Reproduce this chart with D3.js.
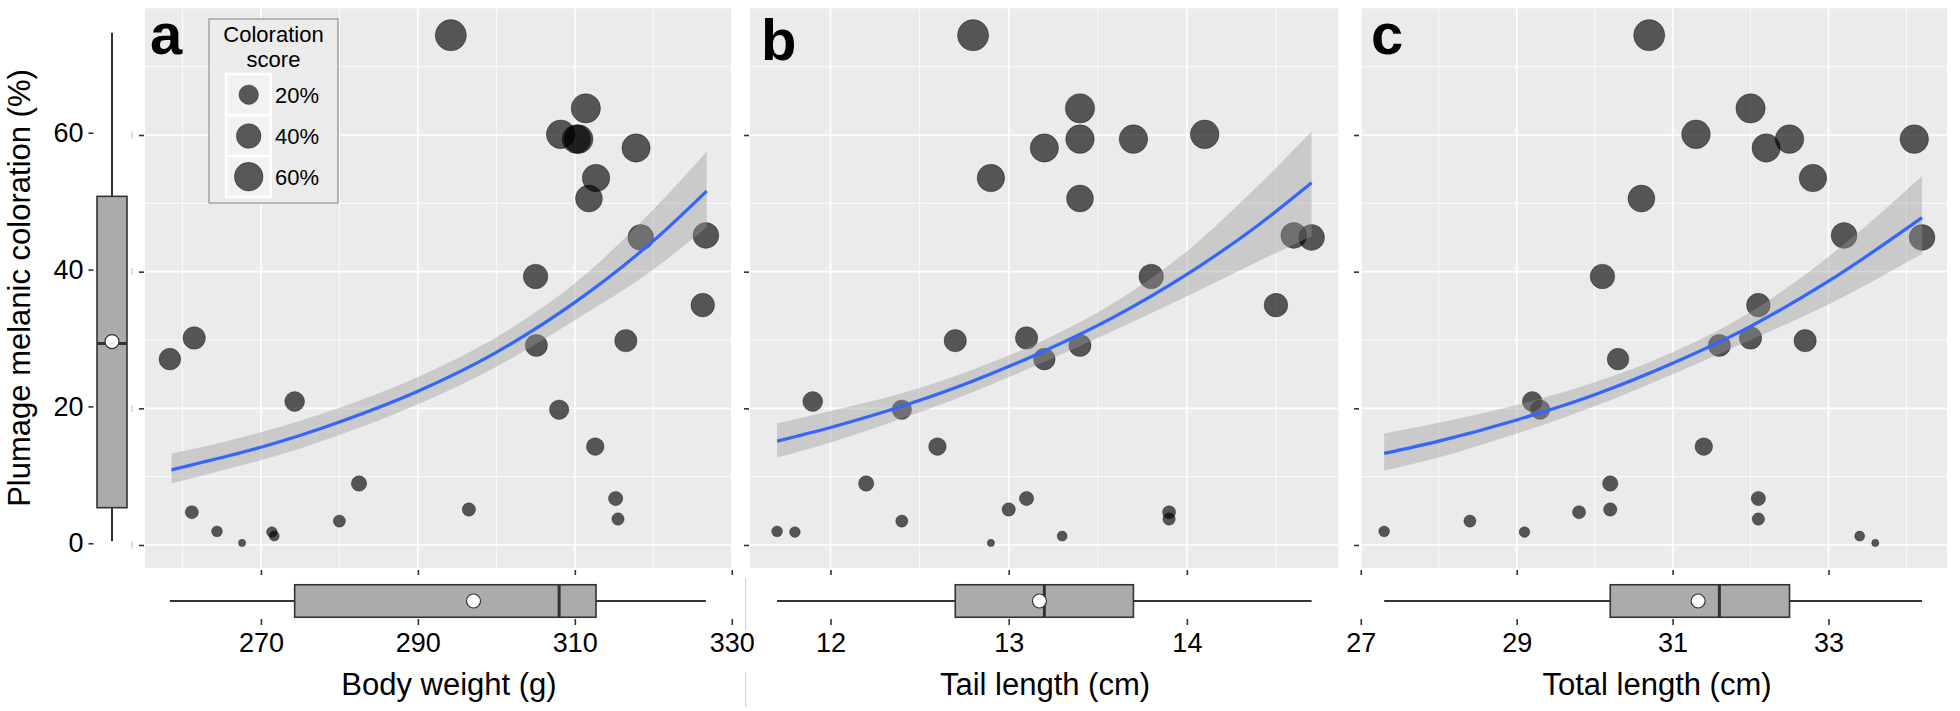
<!DOCTYPE html>
<html><head><meta charset="utf-8">
<script src="https://cdn.jsdelivr.net/npm/d3@7"></script>
<style>body{margin:0;background:#fff;} svg{display:block;font-family:"Liberation Sans",Arial,Helvetica,sans-serif;}</style>
</head><body><svg id="chart" width="1960" height="711"></svg>
<script>
// ---------------- DATA ----------------
const coloration  = [27.2, 30.3, 4.8, 2.0, 0.3, 1.9, 1.3, 21.0, 3.5, 9.0, 74.6, 5.2, 39.3, 29.2, 19.8, 60.1, 59.4, 59.4, 63.9, 50.7, 53.7, 14.4, 6.8, 3.8, 29.9, 58.1, 45.0, 45.3, 35.1];
const bodyWeight  = [258.4, 261.5, 261.2, 264.4, 267.6, 271.4, 271.7, 274.3, 280.0, 282.5, 294.2, 296.5, 305.0, 305.1, 308.0, 308.2, 310.2, 310.5, 311.4, 311.8, 312.7, 312.6, 315.2, 315.5, 316.5, 317.8, 318.4, 326.7, 326.3];
const tailLength  = [13.2, 13.1, 13.9, 11.7, 12.9, 11.8, 13.3, 11.9, 12.4, 12.2, 12.8, 13.0, 13.8, 13.4, 12.4, 14.1, 13.4, 13.7, 13.4, 13.4, 12.9, 12.6, 13.1, 13.9, 12.7, 13.2, 14.7, 14.6, 14.5];
const totalLength = [30.3, 32.0, 29.8, 27.3, 33.6, 29.1, 33.4, 29.2, 28.4, 30.2, 30.7, 30.2, 30.1, 31.6, 29.3, 31.3, 32.5, 34.1, 32.0, 30.6, 32.8, 31.4, 32.1, 32.1, 32.7, 32.2, 34.2, 33.2, 32.1];

const yTicks = [0, 20, 40, 60];
const yMinor = [10, 30, 50, 70];
const weightTicks = [270, 290, 310, 330];
const weightMinor = [260, 280, 300, 320];
const tailTicks = [12, 13, 14];
const tailMinor = [12.5, 13.5, 14.5];
const totalTicks = [27, 29, 31, 33];
const totalMinor = [28, 30, 32, 34];

// fitted curves
const weightFitX  = [258.6, 265, 270, 280, 290, 300, 310, 320, 326.8];
const weightFit   = [11.0, 12.8, 14.3, 18.0, 22.5, 28.2, 35.5, 44.5, 51.8];
const weightLower = [9.0, 10.9, 12.4, 16.1, 20.6, 26.1, 32.9, 40.3, 46.5];
const weightUpper = [13.4, 15.0, 16.5, 20.1, 24.6, 30.4, 38.3, 49.1, 57.6];

const tailFitX  = [11.7, 12.0, 12.4, 12.8, 13.2, 13.6, 14.0, 14.4, 14.7];
const tailFit   = [15.2, 17.2, 20.3, 24.0, 28.4, 33.5, 39.6, 46.8, 53.0];
const tailLower = [12.8, 15.0, 18.5, 22.4, 26.8, 31.5, 36.4, 41.5, 45.2];
const tailUpper = [17.8, 19.6, 22.2, 25.7, 30.0, 35.6, 43.0, 52.6, 60.5];

const totalFitX  = [27.3, 28.0, 29.0, 30.0, 31.0, 32.0, 33.0, 34.2];
const totalFit   = [13.4, 15.2, 18.3, 22.0, 26.6, 32.0, 38.6, 47.9];
const totalLower = [10.9, 12.8, 16.3, 20.3, 25.0, 30.0, 35.2, 42.6];
const totalUpper = [16.3, 17.9, 20.5, 23.8, 28.2, 34.1, 42.2, 54.0];

const legendValues = [20, 40, 60];
const legendLabels = ["20%", "40%", "60%"];
const legendTitle = ["Coloration", "score"];
const panelLetters = ["a", "b", "c"];
const xTitles = ["Body weight (g)", "Tail length (cm)", "Total length (cm)"];
const yTitle = "Plumage melanic coloration (%)";

// ---------------- LAYOUT ----------------
const svg = d3.select("#chart");
svg.append("rect").attr("width", 1960).attr("height", 711).attr("fill", "#fff");

const PTOP = 8.3, PBOT = 568;
const y = d3.scaleLinear().domain([-3.366, 78.54]).range([PBOT, PTOP]);
const yLeft = d3.scaleLinear().domain([-3.366, 78.54]).range([566.3, 5.85]);

const sizeNorm = d3.scaleLinear().domain(d3.extent(coloration)).range([0, 1]);
const rScale = d3.scaleLinear().domain([0, 1]).range([3.6, 15.6]);
const rad = v => rScale(Math.sqrt(Math.max(0, sizeNorm(v))));

const panels = [
  {xs: bodyWeight, dom: [255.23, 329.9], rng: [145, 731], ticks: weightTicks, minor: weightMinor,
   fx: weightFitX, fy: weightFit, lo: weightLower, hi: weightUpper, titleX: 449, letterX: 150, letterY: 54},
  {xs: tailLength, dom: [11.548, 14.851], rng: [750, 1338.5], ticks: tailTicks, minor: tailMinor,
   fx: tailFitX, fy: tailFit, lo: tailLower, hi: tailUpper, titleX: 1045, letterX: 761, letterY: 60},
  {xs: totalLength, dom: [26.99, 34.52], rng: [1360, 1947], ticks: totalTicks, minor: totalMinor,
   fx: totalFitX, fy: totalFit, lo: totalLower, hi: totalUpper, titleX: 1657, letterX: 1371, letterY: 54}
];

const boxFill = "#ababab", dark = "#333";

function stats(arr) {
  const s = arr.slice().sort(d3.ascending);
  return {min: s[0], q1: d3.quantile(s, 0.25), med: d3.quantile(s, 0.5), q3: d3.quantile(s, 0.75), max: s[s.length - 1], mean: d3.mean(s)};
}

panels.forEach((p, pi) => {
  const x = d3.scaleLinear().domain(p.dom).range(p.rng);
  const g = svg.append("g");
  const w = p.rng[1] - p.rng[0];
  g.append("rect").attr("x", p.rng[0]).attr("y", PTOP).attr("width", w).attr("height", PBOT - PTOP).attr("fill", "#ebebeb");
  const cid = "clip" + pi;
  svg.append("clipPath").attr("id", cid).append("rect").attr("x", p.rng[0]).attr("y", PTOP).attr("width", w).attr("height", PBOT - PTOP);
  const c = g.append("g").attr("clip-path", `url(#${cid})`);

  // minor grid
  c.selectAll(".ym").data(yMinor).join("line").attr("x1", p.rng[0]).attr("x2", p.rng[1])
    .attr("y1", d => y(d)).attr("y2", d => y(d)).attr("stroke", "#fff").attr("stroke-width", 0.8);
  c.selectAll(".xm").data(p.minor).join("line").attr("y1", PTOP).attr("y2", PBOT)
    .attr("x1", d => x(d)).attr("x2", d => x(d)).attr("stroke", "#fff").attr("stroke-width", 0.8);
  // major grid
  c.selectAll(".yM").data(yTicks).join("line").attr("x1", p.rng[0]).attr("x2", p.rng[1])
    .attr("y1", d => y(d)).attr("y2", d => y(d)).attr("stroke", "#fff").attr("stroke-width", 1.6);
  c.selectAll(".xM").data(p.ticks).join("line").attr("y1", PTOP).attr("y2", PBOT)
    .attr("x1", d => x(d)).attr("x2", d => x(d)).attr("stroke", "#fff").attr("stroke-width", 1.6);

  // points
  c.selectAll(".pt").data(coloration.map((v, i) => ({v, xv: p.xs[i]}))).join("circle")
    .attr("cx", d => x(d.xv)).attr("cy", d => y(d.v)).attr("r", d => rad(d.v))
    .attr("fill", "#000").attr("fill-opacity", 0.64)
    .attr("stroke", "#000").attr("stroke-opacity", 0.3).attr("stroke-width", 1);

  // ribbon + fit
  const idx = d3.range(p.fx.length);
  c.append("path").datum(idx)
    .attr("d", d3.area().x(i => x(p.fx[i])).y0(i => y(p.lo[i])).y1(i => y(p.hi[i])).curve(d3.curveMonotoneX))
    .attr("fill", "#999").attr("fill-opacity", 0.4);
  c.append("path").datum(idx)
    .attr("d", d3.line().x(i => x(p.fx[i])).y(i => y(p.fy[i])).curve(d3.curveMonotoneX))
    .attr("fill", "none").attr("stroke", "#3366FF").attr("stroke-width", 3.2);

  // panel letter
  g.append("text").attr("x", p.letterX).attr("y", p.letterY).attr("font-size", 58).attr("font-weight", "bold")
    .attr("fill", "#000").text(panelLetters[pi]);

  // left ticks of panel
  const la = d3.axisLeft(y).tickValues(yTicks).tickSize(5).tickFormat("");
  const lg = g.append("g").attr("transform", `translate(${p.rng[0] - 1},0)`).call(la);
  lg.select(".domain").remove();
  lg.selectAll("line").attr("stroke", dark).attr("stroke-width", 1.6);
  if (pi === 0) {
    g.selectAll(".faint").data(yTicks).join("line").attr("x1", 132).attr("x2", 132)
      .attr("y1", d => y(d) - 3.5).attr("y2", d => y(d) + 3.5).attr("stroke", "#bbb").attr("stroke-width", 1);
  }

  // bottom ticks under panel
  const ba = d3.axisBottom(x).tickValues(p.ticks).tickSize(5).tickFormat("");
  const bg = g.append("g").attr("transform", `translate(0,${PBOT + 2})`).call(ba);
  bg.select(".domain").remove();
  bg.selectAll("line").attr("stroke", dark).attr("stroke-width", 1.6);

  // marginal boxplot (horizontal)
  const st = stats(p.xs);
  const cy = 601, bh = 32.5;
  const bp = g.append("g");
  bp.append("line").attr("x1", x(st.min)).attr("x2", x(st.q1)).attr("y1", cy).attr("y2", cy).attr("stroke", dark).attr("stroke-width", 2);
  bp.append("line").attr("x1", x(st.q3)).attr("x2", x(st.max)).attr("y1", cy).attr("y2", cy).attr("stroke", dark).attr("stroke-width", 2);
  bp.append("rect").attr("x", x(st.q1)).attr("y", cy - bh / 2).attr("width", x(st.q3) - x(st.q1)).attr("height", bh)
    .attr("fill", boxFill).attr("stroke", dark).attr("stroke-width", 1.6);
  bp.append("line").attr("x1", x(st.med)).attr("x2", x(st.med)).attr("y1", cy - bh / 2).attr("y2", cy + bh / 2).attr("stroke", dark).attr("stroke-width", 3);
  bp.append("circle").attr("cx", x(st.mean)).attr("cy", cy).attr("r", 7).attr("fill", "#fff").attr("stroke", dark).attr("stroke-width", 1.2);

  // axis with labels under boxplot
  const la2 = d3.axisBottom(x).tickValues(p.ticks).tickSize(6).tickPadding(7.8).tickFormat(d3.format("d"));
  const ag = g.append("g").attr("transform", "translate(0,619)").call(la2);
  ag.select(".domain").remove();
  ag.selectAll("line").attr("stroke", dark).attr("stroke-width", 1.6);
  ag.selectAll("text").attr("font-size", 27).attr("fill", "#000").attr("font-family", "Liberation Sans, Arial, sans-serif");

  // x title
  g.append("text").attr("x", p.titleX).attr("y", 695).attr("text-anchor", "middle").attr("font-size", 31)
    .attr("fill", "#000").text(xTitles[pi]);
});

// separator line
svg.append("line").attr("x1", 745.7).attr("x2", 745.7).attr("y1", 578).attr("y2", 630).attr("stroke", "#ccc").attr("stroke-width", 1);
svg.append("line").attr("x1", 745.7).attr("x2", 745.7).attr("y1", 672).attr("y2", 707).attr("stroke", "#ccc").attr("stroke-width", 1);

// ---------------- LEFT AXIS + VERTICAL BOXPLOT ----------------
const yl = d3.axisLeft(yLeft).tickValues(yTicks).tickSize(5).tickPadding(5);
const ylg = svg.append("g").attr("transform", "translate(93.5,0)").call(yl);
ylg.select(".domain").remove();
ylg.selectAll("line").attr("stroke", dark).attr("stroke-width", 1.6);
ylg.selectAll("text").attr("font-size", 27).attr("fill", "#000").attr("font-family", "Liberation Sans, Arial, sans-serif");

const sy = stats(coloration);
const bx = 112, bw = 30;
const vb = svg.append("g");
vb.append("line").attr("x1", bx).attr("x2", bx).attr("y1", yLeft(sy.max)).attr("y2", yLeft(sy.q3)).attr("stroke", dark).attr("stroke-width", 2);
vb.append("line").attr("x1", bx).attr("x2", bx).attr("y1", yLeft(sy.q1)).attr("y2", yLeft(sy.min)).attr("stroke", dark).attr("stroke-width", 2);
vb.append("rect").attr("x", bx - bw / 2).attr("y", yLeft(sy.q3)).attr("width", bw).attr("height", yLeft(sy.q1) - yLeft(sy.q3))
  .attr("fill", boxFill).attr("stroke", dark).attr("stroke-width", 1.6);
vb.append("line").attr("x1", bx - bw / 2).attr("x2", bx + bw / 2).attr("y1", yLeft(sy.med)).attr("y2", yLeft(sy.med)).attr("stroke", dark).attr("stroke-width", 3);
vb.append("circle").attr("cx", bx).attr("cy", yLeft(sy.mean)).attr("r", 7).attr("fill", "#fff").attr("stroke", dark).attr("stroke-width", 1.2);

svg.append("text").attr("transform", "translate(30,288) rotate(-90)").attr("text-anchor", "middle")
  .attr("font-size", 31).attr("fill", "#000").text(yTitle);

// ---------------- LEGEND ----------------
const lgd = svg.append("g");
lgd.append("rect").attr("x", 209).attr("y", 19).attr("width", 129).attr("height", 184)
  .attr("fill", "#ebebeb").attr("stroke", "#999").attr("stroke-width", 1.3);
legendTitle.forEach((t, i) => lgd.append("text").attr("x", 273.5).attr("y", 42 + i * 25).attr("text-anchor", "middle")
  .attr("font-size", 22).attr("fill", "#000").text(t));
const keyY = [74, 115.3, 156];
legendValues.forEach((v, i) => {
  lgd.append("rect").attr("x", 226).attr("y", keyY[i]).attr("width", 44.7).attr("height", 41)
    .attr("fill", "#f2f2f2").attr("stroke", "#fff").attr("stroke-width", 2.5);
  lgd.append("circle").attr("cx", 248.7).attr("cy", keyY[i] + 20.7).attr("r", rad(v))
    .attr("fill", "#000").attr("fill-opacity", 0.64).attr("stroke", "#000").attr("stroke-opacity", 0.3).attr("stroke-width", 1);
  lgd.append("text").attr("x", 275).attr("y", keyY[i] + 20.7 + 7.8).attr("font-size", 22).attr("fill", "#000").text(legendLabels[i]);
});
</script>
</body></html>
